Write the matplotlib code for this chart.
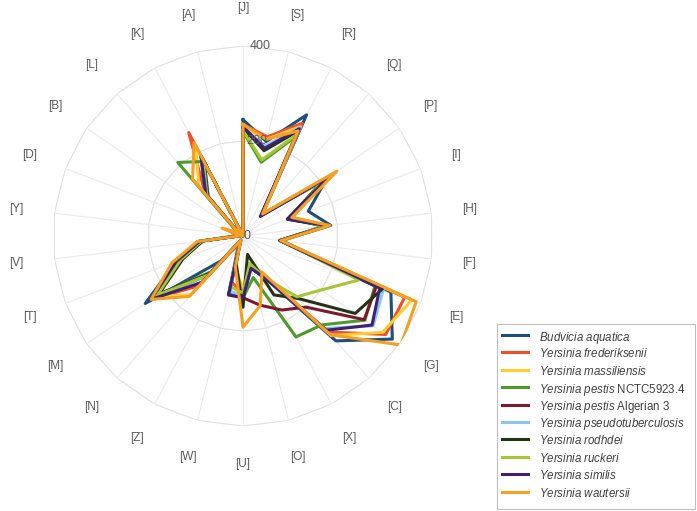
import numpy as np
import matplotlib
matplotlib.use("Agg")
import matplotlib.pyplot as plt
from matplotlib.lines import Line2D
from matplotlib.patches import Rectangle

plt.rcParams["font.family"] = ["Liberation Sans", "DejaVu Sans"]
plt.rcParams["mathtext.fontset"] = "custom"
plt.rcParams["mathtext.rm"] = "Liberation Sans"
plt.rcParams["mathtext.it"] = "Liberation Sans:italic"

categories = ["J", "S", "R", "Q", "P", "I", "H", "F", "E", "G", "C", "X", "O",
              "U", "W", "Z", "N", "M", "T", "V", "Y", "D", "B", "L", "K", "A"]

budvicia_aquatica = [245, 205, 288, 62, 215, 147, 186, 82, 333, 382, 295, 100, 70,
                     130, 125, 20, 70, 250, 150, 90, 10, 30, 10, 110, 175, 0]
y_frederiksenii = [235, 215, 268, 60, 225, 110, 180, 80, 364, 365, 270, 90, 60,
                   120, 100, 15, 140, 235, 155, 95, 5, 35, 10, 120, 246, 0]
y_massiliensis = [230, 210, 260, 62, 225, 105, 180, 80, 380, 357, 280, 90, 60,
                  110, 70, 15, 165, 225, 160, 95, 5, 40, 10, 140, 215, 0]
y_pestis_nctc = [220, 160, 235, 60, 200, 105, 170, 78, 297, 312, 250, 240, 90,
                 130, 120, 10, 100, 220, 140, 85, 5, 25, 15, 207, 177, 0]
y_pestis_algerian = [225, 190, 255, 60, 215, 105, 175, 80, 300, 310, 200, 176, 150,
                     130, 120, 10, 110, 225, 145, 90, 5, 25, 10, 120, 190, 0]
y_pseudotb = [228, 195, 258, 60, 218, 105, 178, 80, 316, 333, 260, 100, 70,
              125, 120, 10, 110, 225, 145, 90, 5, 25, 10, 118, 190, 0]
y_rodhdei = [228, 185, 250, 58, 210, 100, 175, 78, 314, 287, 176, 140, 40,
             150, 60, 10, 105, 215, 135, 85, 5, 25, 10, 115, 180, 0]
y_ruckeri = [222, 165, 240, 62, 205, 108, 172, 80, 261, 200, 171, 100, 60,
             120, 110, 10, 109, 220, 140, 88, 5, 25, 10, 115, 180, 0]
y_similis = [230, 190, 255, 55, 220, 100, 180, 78, 308, 330, 265, 100, 70,
             130, 128, 10, 130, 235, 150, 92, 5, 25, 10, 118, 191, 0]
y_wautersii = [235, 210, 250, 62, 240, 110, 184, 80, 390, 404, 278, 86, 151,
               192, 67, 10, 170, 235, 160, 97, 5, 47, 10, 160, 222, 0]

series = [
    (r"$\it{Budvicia\ aquatica}$", budvicia_aquatica, "#1f4e79"),
    (r"$\it{Yersinia\ frederiksenii}$", y_frederiksenii, "#f0502a"),
    (r"$\it{Yersinia\ massiliensis}$", y_massiliensis, "#ffcc33"),
    (r"$\it{Yersinia\ pestis}\ \mathrm{NCTC5923.4}$", y_pestis_nctc, "#4e9a2c"),
    (r"$\it{Yersinia\ pestis}\ \mathrm{Algerian\ 3}$", y_pestis_algerian, "#7a1a30"),
    (r"$\it{Yersinia\ pseudotuberculosis}$", y_pseudotb, "#8ec5f0"),
    (r"$\it{Yersinia\ rodhdei}$", y_rodhdei, "#263313"),
    (r"$\it{Yersinia\ ruckeri}$", y_ruckeri, "#a6c637"),
    (r"$\it{Yersinia\ similis}$", y_similis, "#3d2172"),
    (r"$\it{Yersinia\ wautersii}$", y_wautersii, "#f4a024"),
]

n = len(categories)
theta = np.linspace(0, 2 * np.pi, n, endpoint=False)
theta_c = np.append(theta, theta[0])

W, H = 697, 511
fig = plt.figure(figsize=(W / 100, H / 100), dpi=100)
ax = fig.add_axes([53 / W, 85 / H, 380 / W, 380 / H], projection="polar")
ax.set_theta_zero_location("N")
ax.set_theta_direction(-1)
ax.set_ylim(0, 400)
ax.grid(False)
ax.spines["polar"].set_visible(False)
ax.set_xticks([])
ax.set_yticks([])

# polygon grid like a spreadsheet radar chart
for r in [200, 400]:
    ax.plot(theta_c, [r] * (n + 1), color="#e2e2e2", lw=0.9, zorder=1)
for t in theta:
    ax.plot([t, t], [0, 400], color="#ebebeb", lw=0.8, zorder=1)

for lab, r in [("0", 0), ("200", 200), ("400", 400)]:
    ax.text(0.035, r, lab, ha="left", va="center", fontsize=9, color="#595959", zorder=5)

for t, c in zip(theta, categories):
    ax.text(t, 480, "[" + c + "]", ha="center", va="center", fontsize=8.5,
            color="#595959", clip_on=False)

for lab, vals, col in series:
    v = np.append(vals, vals[0])
    ax.plot(theta_c, v, color=col, lw=2.2, zorder=3)

# legend drawn by hand so the rows stay evenly spaced
fig.add_artist(Rectangle((497 / W, 1 - 509 / H), 198 / W, 185 / H,
                         transform=fig.transFigure, fill=False,
                         edgecolor="#bfbfbf", lw=0.8))
for i, (lab, vals, col) in enumerate(series):
    y = 1 - (335 + 17.4 * i) / H
    fig.add_artist(Line2D([502 / W, 528 / W], [y, y], color=col, lw=2.2,
                          transform=fig.transFigure))
    fig.text(539 / W, y, lab, ha="left", va="center_baseline", fontsize=8.3,
             color="#404040")

fig.savefig("out.png", dpi=100, facecolor="white")
